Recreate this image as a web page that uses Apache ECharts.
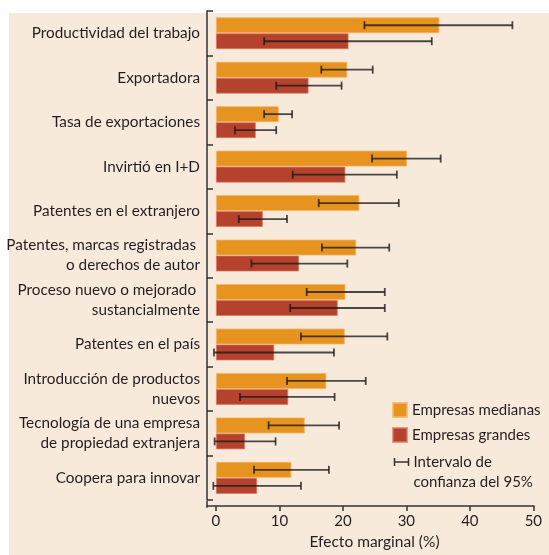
<!DOCTYPE html>
<html>
<head>
<meta charset="utf-8">
<script src="https://cdn.jsdelivr.net/npm/echarts@6/dist/echarts.min.js"></script>
<style>
html,body{margin:0;padding:0;background:#ffffff;}
#wrap{position:absolute;left:9px;top:13px;width:540px;height:542px;background:#f8eadb;}
#chart{position:absolute;left:0;top:0;width:549px;height:555px;}
</style>
</head>
<body>
<div id="wrap"></div>
<div id="chart"></div>
<script>
const categories = [
  'Productividad del trabajo',
  'Exportadora',
  'Tasa de exportaciones',
  'Invirtió en I+D',
  'Patentes en el extranjero',
  'Patentes, marcas registradas \no derechos de autor',
  'Proceso nuevo o mejorado \nsustancialmente',
  'Patentes en el país',
  'Introducción de productos\nnuevos',
  'Tecnología de una empresa\nde propiedad extranjera',
  'Coopera para innovar'
];
const medianas     = [35.2, 20.7, 9.9, 30.1, 22.6, 22.1, 20.4, 20.3, 17.4, 14.0, 11.9];
const medianasLow  = [23.4, 16.6, 7.6, 24.6, 16.2, 16.7, 14.3, 13.4, 11.2, 8.3, 6.0];
const medianasHigh = [46.7, 24.7, 12.0, 35.4, 28.8, 27.3, 26.6, 27.0, 23.6, 19.4, 17.8];
const grandes      = [20.9, 14.6, 6.3, 20.4, 7.4, 13.1, 19.2, 9.2, 11.4, 4.6, 6.5];
const grandesLow   = [7.6, 9.5, 3.0, 12.1, 3.6, 5.6, 11.7, -0.3, 3.8, -0.2, -0.4];
const grandesHigh  = [34.0, 19.8, 9.5, 28.5, 11.2, 20.7, 26.6, 18.6, 18.7, 9.4, 13.4];
const xTicks = [0, 10, 20, 30, 40, 50];

const FONT = 'Lato';
const TXT = '#231f20';
const ORANGE = '#e6931f';
const RED = '#b5422c';
const ERR = 'rgba(25,25,25,0.78)';
const AXIS = '#333333';
const CI_NAME = 'Intervalo de confianza del 95%';

const errData = [];
categories.forEach((c, i) => {
  errData.push([medianasLow[i], medianasHigh[i], i, -1]);
  errData.push([grandesLow[i], grandesHigh[i], i, 1]);
});

const chart = echarts.init(document.getElementById('chart'), null, {renderer: 'canvas'});
chart.setOption({
  backgroundColor: 'transparent',
  animation: false,
  textStyle: {fontFamily: FONT, color: TXT},
  grid: {left: 207, right: 15, top: 11, bottom: 54, containLabel: false},
  legend: [
    {
      orient: 'vertical', left: 392, top: 402, padding: 0,
      itemWidth: 14, itemHeight: 14, itemGap: 9,
      icon: 'rect',
      selectedMode: false,
      textStyle: {fontFamily: FONT, fontSize: 15, color: TXT},
      data: ['Empresas medianas', 'Empresas grandes']
    },
    {
      orient: 'vertical', left: 392, top: 432, padding: 0,
      itemWidth: 14, itemHeight: 14,
      selectedMode: false,
      formatter: () => ' \nIntervalo de\nconfianza del 95%',
      textStyle: {fontFamily: FONT, fontSize: 15, color: TXT, lineHeight: 20},
      data: [{
        name: CI_NAME,
        icon: 'path://M0,0L0,8M0,4L14,4M14,0L14,8',
        itemStyle: {color: 'none', borderColor: '#333', borderWidth: 1.5}
      }]
    }
  ],
  xAxis: {
    type: 'value', min: -1.4, max: 50.1, offset: 6,
    splitLine: {show: false},
    axisLine: {show: true, lineStyle: {color: AXIS, width: 1.5}},
    axisTick: {show: true, length: 5, customValues: xTicks, lineStyle: {color: AXIS, width: 1.5}},
    axisLabel: {customValues: xTicks, margin: 8, fontSize: 15, color: TXT, fontFamily: FONT},
    name: 'Efecto marginal (%)', nameLocation: 'middle', nameGap: 26,
    nameTextStyle: {fontSize: 15.5, color: TXT, fontFamily: FONT, padding: [0, 0, 0, 8]}
  },
  yAxis: {
    type: 'category', inverse: true, data: categories,
    axisLine: {show: true, onZero: false, lineStyle: {color: AXIS, width: 1.5}},
    axisTick: {show: true, inside: true, length: 6, lineStyle: {color: AXIS, width: 1.5}},
    axisLabel: {margin: 7, fontSize: 15.3, color: TXT, fontFamily: FONT, lineHeight: 20, align: 'right'}
  },
  series: [
    {
      name: 'Empresas medianas', type: 'bar', data: medianas,
      barGap: 0, barCategoryGap: '28%',
      itemStyle: {color: ORANGE, borderColor: 'rgba(245,180,100,0.8)', borderWidth: 1}
    },
    {
      name: 'Empresas grandes', type: 'bar', data: grandes,
      barGap: 0, barCategoryGap: '28%',
      itemStyle: {color: RED, borderColor: 'rgba(220,120,100,0.7)', borderWidth: 1}
    },
    {
      name: CI_NAME, type: 'custom', z: 5,
      encode: {x: [0, 1], y: 2},
      data: errData,
      renderItem: function (params, api) {
        const cat = api.value(2);
        const sign = api.value(3);
        const p0 = api.coord([api.value(0), cat]);
        const p1 = api.coord([api.value(1), cat]);
        const band = api.size([0, 1])[1];
        const y = p0[1] + sign * band * 0.72 / 4;
        const h = 4;
        const st = {stroke: ERR, lineWidth: 1.8};
        return {
          type: 'group',
          children: [
            {type: 'line', shape: {x1: p0[0], y1: y, x2: p1[0], y2: y}, style: st},
            {type: 'line', shape: {x1: p0[0], y1: y - h, x2: p0[0], y2: y + h}, style: st},
            {type: 'line', shape: {x1: p1[0], y1: y - h, x2: p1[0], y2: y + h}, style: st}
          ]
        };
      }
    }
  ]
});
// extend the vertical axis line down to the offset horizontal axis line
const gridBottom = chart.convertToPixel({gridIndex: 0}, [-1.4, categories.length - 0.5]);
const yAxisBottom = chart.getHeight() - 54;
chart.setOption({
  graphic: [{
    type: 'line', silent: true,
    shape: {x1: 207, y1: yAxisBottom, x2: 207, y2: yAxisBottom + 6.75},
    style: {stroke: AXIS, lineWidth: 1.5}
  }]
});
</script>
</body>
</html>
